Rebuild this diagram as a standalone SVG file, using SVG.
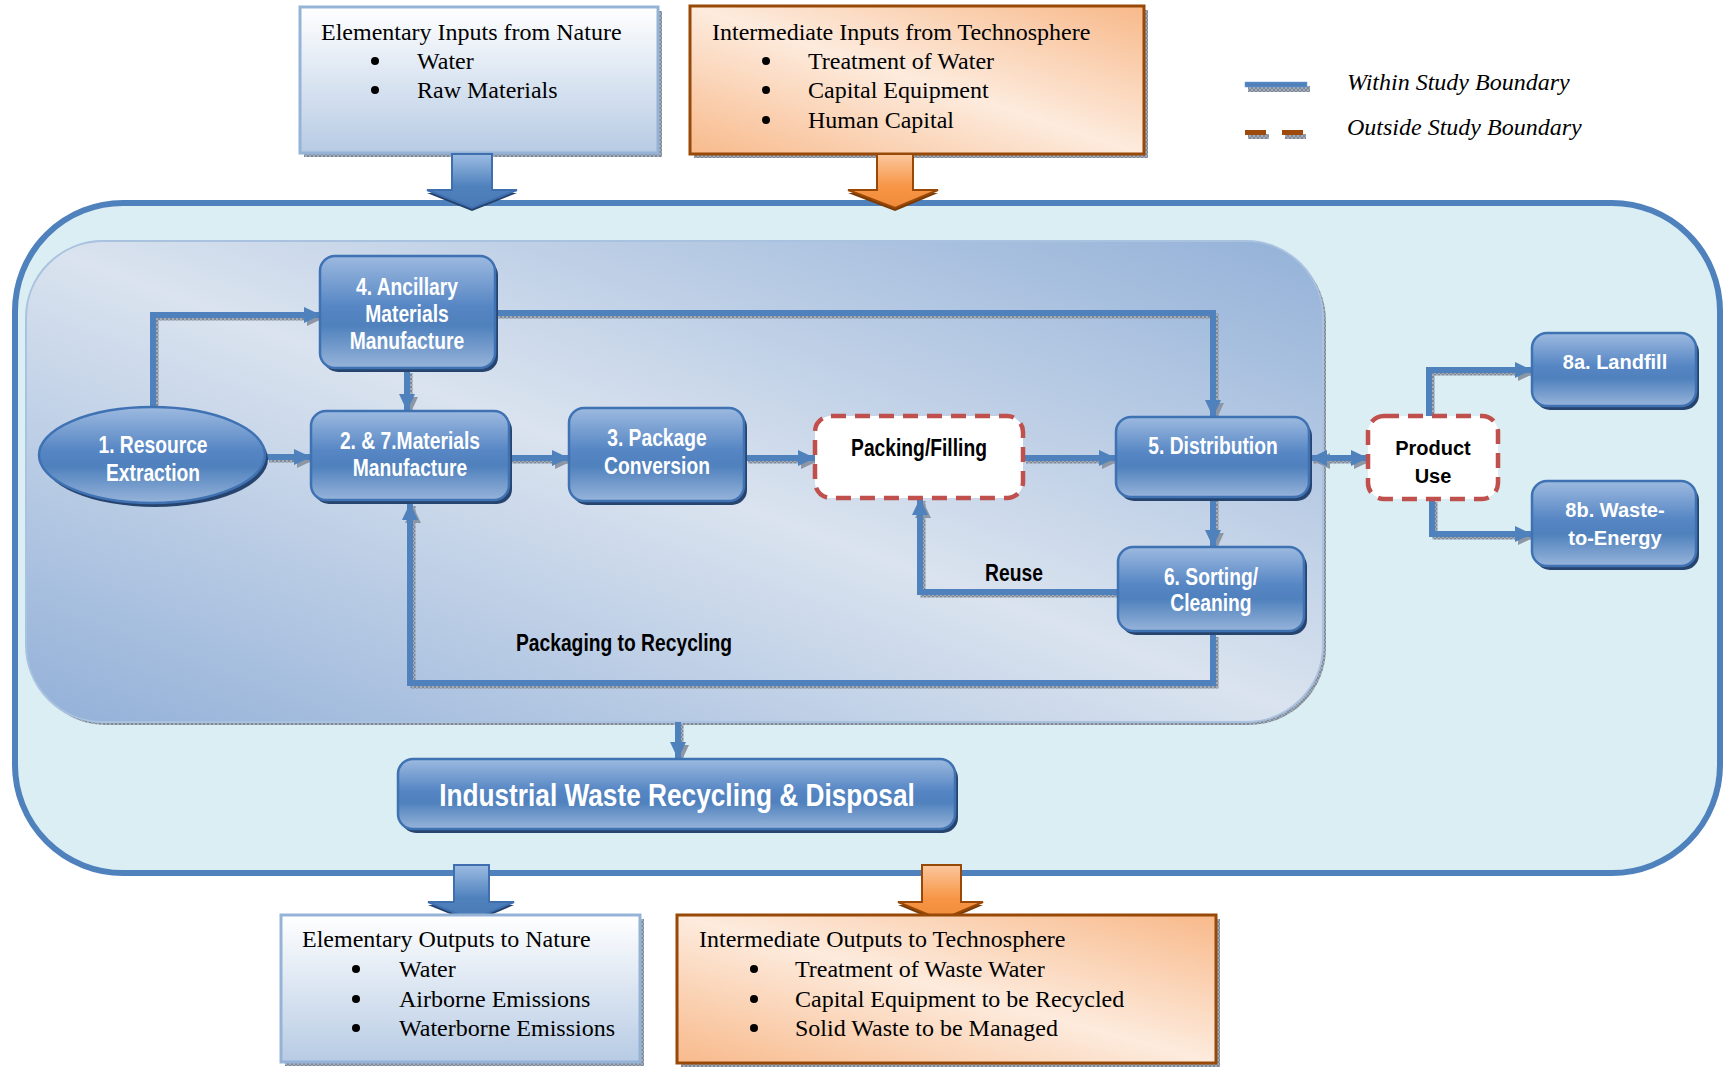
<svg xmlns="http://www.w3.org/2000/svg" width="1724" height="1067" viewBox="0 0 1724 1067">
<defs>
  <pattern id="hatch" width="4" height="4" patternUnits="userSpaceOnUse">
    <rect width="4" height="4" fill="#A3ACB8"/>
    <path d="M0 0L4 4M4 0L0 4" stroke="#6F7A8A" stroke-width="0.7"/>
  </pattern>
  <linearGradient id="gElem" x1="0" y1="0" x2="0" y2="1">
    <stop offset="0" stop-color="#FFFFFF"/>
    <stop offset="1" stop-color="#B7CBE4"/>
  </linearGradient>
  <linearGradient id="gOrange" x1="1" y1="0" x2="0" y2="1">
    <stop offset="0" stop-color="#F8B98A"/>
    <stop offset="0.5" stop-color="#FDEBDD"/>
    <stop offset="1" stop-color="#F8BA8C"/>
  </linearGradient>
  <linearGradient id="gInner" x1="1" y1="0" x2="0" y2="1">
    <stop offset="0" stop-color="#93B1D8"/>
    <stop offset="0.5" stop-color="#DAE3EF"/>
    <stop offset="1" stop-color="#92B0D8"/>
  </linearGradient>
  <linearGradient id="gNode" x1="0" y1="0" x2="0" y2="1">
    <stop offset="0" stop-color="#9DBAE0"/>
    <stop offset="0.45" stop-color="#5686C4"/>
    <stop offset="0.62" stop-color="#4F81BD"/>
    <stop offset="1" stop-color="#97B4DA"/>
  </linearGradient>
  <linearGradient id="gBlueArrow" x1="0" y1="0" x2="0" y2="1">
    <stop offset="0" stop-color="#9CBCE3"/>
    <stop offset="0.6" stop-color="#4F81BD"/>
    <stop offset="1" stop-color="#4A7AB5"/>
  </linearGradient>
  <linearGradient id="gOrangeArrow" x1="0" y1="0" x2="0" y2="1">
    <stop offset="0" stop-color="#FBC79E"/>
    <stop offset="0.6" stop-color="#F79646"/>
    <stop offset="1" stop-color="#F08A38"/>
  </linearGradient>
  <marker id="ah" markerUnits="userSpaceOnUse" markerWidth="17" markerHeight="16" refX="17" refY="8" orient="auto-start-reverse">
    <path d="M0,0 L17,8 L0,16 z" fill="#4F81BD"/>
  </marker>
  <marker id="ahs" markerUnits="userSpaceOnUse" markerWidth="17" markerHeight="16" refX="17" refY="8" orient="auto-start-reverse">
    <path d="M0,0 L17,8 L0,16 z" fill="#8C96A4"/>
  </marker>
  <style>
    .serif{font-family:"Liberation Serif","Times New Roman",serif;font-size:24px;fill:#000}
    .ital{font-family:"Liberation Serif","Times New Roman",serif;font-size:24px;font-style:italic;fill:#000}
    .nt{font-family:"Liberation Sans Narrow","Arial Narrow","Liberation Sans",sans-serif;font-weight:bold;font-size:23.5px;fill:#fff;text-anchor:middle}
    .nb{font-family:"Liberation Sans Narrow","Arial Narrow","Liberation Sans",sans-serif;font-weight:bold;font-size:23.5px;fill:#000;text-anchor:middle}
    .at{font-family:"Liberation Sans",Arial,sans-serif;font-weight:bold;font-size:20px;text-anchor:middle}
    .node{fill:url(#gNode);stroke:#3F72B3;stroke-width:2.5}
    .nshadow{fill:#27446E}
    .dash{fill:#fff;stroke:#C0504D;stroke-width:4.5;stroke-dasharray:15 9}
    .elem{fill:url(#gElem);stroke:#95B3D7;stroke-width:3}
    .orng{fill:url(#gOrange);stroke:#984807;stroke-width:3}
    .hatch{fill:url(#hatch)}
    .conn path{fill:none;stroke:#4F81BD;stroke-width:6;marker-end:url(#ah)}
    .conns path{fill:none;stroke:url(#hatch);stroke-width:5;marker-end:url(#ahs)}
    .barrow{fill:url(#gBlueArrow);stroke:#3F6FAE;stroke-width:2}
    .oarrow{fill:url(#gOrangeArrow);stroke:#984807;stroke-width:2}
  </style>
</defs>
<rect width="1724" height="1067" fill="#fff"/>

<!-- Outer study boundary -->
<g id="boundary">
  <rect x="15" y="203" width="1705" height="670" rx="108" ry="108" fill="#DAEEF3" stroke="#4F81BD" stroke-width="6"/>
</g>

<!-- Inner region -->
<g id="inner-region">
  <rect x="29" y="244" width="1297" height="481" rx="77" ry="77" class="hatch"/>
  <rect x="26" y="241" width="1297" height="481" rx="77" ry="77" fill="url(#gInner)" stroke="#A9C2E0" stroke-width="2"/>
</g>

<!-- Top input boxes -->
<g id="elementary-inputs">
  <rect x="304" y="11" width="358" height="146" class="hatch"/>
  <rect x="300" y="7" width="358" height="146" class="elem"/>
  <text class="serif" x="321" y="40">Elementary Inputs from Nature</text>
  <circle cx="375" cy="61" r="4"/>
  <text class="serif" x="417" y="69">Water</text>
  <circle cx="375" cy="90" r="4"/>
  <text class="serif" x="417" y="98">Raw Materials</text>
</g>
<g id="intermediate-inputs">
  <rect x="694" y="10" width="454" height="148" class="hatch"/>
  <rect x="690" y="6" width="454" height="148" class="orng"/>
  <text class="serif" x="712" y="40">Intermediate Inputs from Technosphere</text>
  <circle cx="766" cy="61" r="4"/>
  <text class="serif" x="808" y="69">Treatment of Water</text>
  <circle cx="766" cy="90" r="4"/>
  <text class="serif" x="808" y="98">Capital Equipment</text>
  <circle cx="766" cy="120" r="4"/>
  <text class="serif" x="808" y="128">Human Capital</text>
</g>

<!-- Big input arrows -->
<g id="arrow-in-elem">
  <polygon points="427,193 472,211 517,193" fill="#23406B"/>
  <polygon points="452,154 492,154 492,190 517,190 472,208 427,190 452,190" class="barrow"/>
</g>
<g id="arrow-in-inter">
  <polygon points="848,193 895,211 938,193" fill="#7A3A06"/>
  <polygon points="877,154 913,154 913,190 938,190 895,208 848,190 877,190" class="oarrow"/>
</g>

<!-- Legend -->
<g id="legend">
  <rect x="1248" y="86" width="62" height="6" class="hatch"/>
  <rect x="1245" y="82" width="62" height="5" fill="#4F81BD" stroke="#6A9AD6" stroke-width="0.5"/>
  <text class="ital" x="1347" y="90">Within Study Boundary</text>
  <rect x="1248" y="134" width="21" height="5" class="hatch"/>
  <rect x="1245" y="130" width="21" height="5" fill="#9E4A0C"/>
  <rect x="1285" y="134" width="21" height="5" class="hatch"/>
  <rect x="1282" y="130" width="21" height="5" fill="#9E4A0C"/>
  <text class="ital" x="1347" y="135">Outside Study Boundary</text>
</g>

<!-- Connectors -->
<g id="connectors">
  <g class="conns" transform="translate(3,3)">
    <path d="M153,408 L153,315 L321,315"/>
    <path d="M266,457 L311,457"/>
    <path d="M407,370 L407,411"/>
    <path d="M509,458 L569,458"/>
    <path d="M745,458 L815,458"/>
    <path d="M1023,458 L1116,458"/>
    <path d="M495,313 L1213,313 L1213,417"/>
    <path d="M1310,458 L1368,458" style="marker-start:url(#ahs)"/>
    <path d="M1213,498 L1213,547"/>
    <path d="M1118,592 L920,592 L920,498"/>
    <path d="M1213,634 L1213,683 L410,683 L410,503"/>
    <path d="M1429,416 L1429,370 L1532,370"/>
    <path d="M1432,499 L1432,534 L1532,534"/>
    <path d="M678,722 L678,759"/>
  </g>
  <g class="conn">
    <path d="M153,408 L153,315 L321,315"/>
    <path d="M266,457 L311,457"/>
    <path d="M407,370 L407,411"/>
    <path d="M509,458 L569,458"/>
    <path d="M745,458 L815,458"/>
    <path d="M1023,458 L1116,458"/>
    <path d="M495,313 L1213,313 L1213,417"/>
    <path d="M1310,458 L1368,458" style="marker-start:url(#ah)"/>
    <path d="M1213,498 L1213,547"/>
    <path d="M1118,592 L920,592 L920,498"/>
    <path d="M1213,634 L1213,683 L410,683 L410,503"/>
    <path d="M1429,416 L1429,370 L1532,370"/>
    <path d="M1432,499 L1432,534 L1532,534"/>
    <path d="M678,722 L678,759"/>
  </g>
</g>

<!-- Nodes -->
<g id="n1-resource-extraction">
  <ellipse cx="155" cy="459" rx="113" ry="48" class="nshadow"/>
  <ellipse cx="152" cy="455" rx="113" ry="48" class="node"/>
  <g transform="scale(0.82 1)">
    <text class="nt" x="186.6" y="453">1. Resource</text>
    <text class="nt" x="186.6" y="481">Extraction</text>
  </g>
</g>
<g id="n4-ancillary">
  <rect x="323" y="260" width="175" height="112" rx="15" class="nshadow"/>
  <rect x="320" y="256" width="175" height="112" rx="15" class="node"/>
  <g transform="scale(0.82 1)">
    <text class="nt" x="496.3" y="295">4. Ancillary</text>
    <text class="nt" x="496.3" y="322">Materials</text>
    <text class="nt" x="496.3" y="349">Manufacture</text>
  </g>
</g>
<g id="n27-materials">
  <rect x="314" y="415" width="198" height="89" rx="15" class="nshadow"/>
  <rect x="311" y="411" width="198" height="89" rx="15" class="node"/>
  <g transform="scale(0.82 1)">
    <text class="nt" x="500" y="449">2. &amp; 7.Materials</text>
    <text class="nt" x="500" y="476">Manufacture</text>
  </g>
</g>
<g id="n3-package">
  <rect x="572" y="412" width="175" height="93" rx="15" class="nshadow"/>
  <rect x="569" y="408" width="175" height="93" rx="15" class="node"/>
  <g transform="scale(0.82 1)">
    <text class="nt" x="801.2" y="446">3. Package</text>
    <text class="nt" x="801.2" y="474">Conversion</text>
  </g>
</g>
<g id="packing-filling">
  <rect x="815" y="416" width="208" height="82" rx="16" class="dash"/>
  <g transform="scale(0.82 1)">
    <text class="nb" x="1120.7" y="456">Packing/Filling</text>
  </g>
</g>
<g id="n5-distribution">
  <rect x="1119" y="421" width="193" height="80" rx="15" class="nshadow"/>
  <rect x="1116" y="417" width="193" height="80" rx="15" class="node"/>
  <g transform="scale(0.82 1)">
    <text class="nt" x="1479.3" y="454">5. Distribution</text>
  </g>
</g>
<g id="n6-sorting">
  <rect x="1121" y="551" width="186" height="84" rx="15" class="nshadow"/>
  <rect x="1118" y="547" width="186" height="84" rx="15" class="node"/>
  <g transform="scale(0.82 1)">
    <text class="nt" x="1476.8" y="585">6. Sorting/</text>
    <text class="nt" x="1476.8" y="611">Cleaning</text>
  </g>
</g>
<g id="product-use">
  <rect x="1368" y="416" width="130" height="83" rx="16" class="dash"/>
  <text class="at" x="1433" y="455" fill="#000">Product</text>
  <text class="at" x="1433" y="483" fill="#000">Use</text>
</g>
<g id="n8a-landfill">
  <rect x="1535" y="337" width="164" height="73" rx="15" class="nshadow"/>
  <rect x="1532" y="333" width="164" height="73" rx="15" class="node"/>
  <text class="at" x="1615" y="369" fill="#fff">8a. Landfill</text>
</g>
<g id="n8b-waste-to-energy">
  <rect x="1535" y="485" width="164" height="85" rx="15" class="nshadow"/>
  <rect x="1532" y="481" width="164" height="85" rx="15" class="node"/>
  <text class="at" x="1615" y="517" fill="#fff">8b. Waste-</text>
  <text class="at" x="1615" y="545" fill="#fff">to-Energy</text>
</g>
<g id="industrial-waste">
  <rect x="401" y="763" width="557" height="70" rx="15" class="nshadow"/>
  <rect x="398" y="759" width="557" height="70" rx="15" class="node"/>
  <g transform="scale(0.82 1)">
    <text class="nt" x="825.6" y="806" style="font-size:32px">Industrial Waste Recycling &amp; Disposal</text>
  </g>
</g>

<g id="labels" transform="scale(0.82 1)">
  <text class="nb" x="1236.6" y="581">Reuse</text>
  <text class="nb" x="761" y="651">Packaging to Recycling</text>
</g>

<!-- Big output arrows -->
<g id="arrow-out-elem">
  <polygon points="428,905 472,923 514,905" fill="#23406B"/>
  <polygon points="454,865 489,865 489,902 514,902 472,920 428,902 454,902" class="barrow"/>
</g>
<g id="arrow-out-inter">
  <polygon points="898,905 941,923 983,905" fill="#7A3A06"/>
  <polygon points="922,865 961,865 961,902 983,902 941,920 898,902 922,902" class="oarrow"/>
</g>

<!-- Bottom output boxes -->
<g id="elementary-outputs">
  <rect x="285" y="919" width="359" height="147" class="hatch"/>
  <rect x="281" y="915" width="359" height="147" class="elem"/>
  <text class="serif" x="302" y="947">Elementary Outputs to Nature</text>
  <circle cx="356" cy="969" r="4"/>
  <text class="serif" x="399" y="977">Water</text>
  <circle cx="356" cy="999" r="4"/>
  <text class="serif" x="399" y="1007">Airborne Emissions</text>
  <circle cx="356" cy="1028" r="4"/>
  <text class="serif" x="399" y="1036">Waterborne Emissions</text>
</g>
<g id="intermediate-outputs">
  <rect x="681" y="919" width="539" height="148" class="hatch"/>
  <rect x="677" y="915" width="539" height="148" class="orng"/>
  <text class="serif" x="699" y="947">Intermediate Outputs to Technosphere</text>
  <circle cx="754" cy="969" r="4"/>
  <text class="serif" x="795" y="977">Treatment of Waste Water</text>
  <circle cx="754" cy="999" r="4"/>
  <text class="serif" x="795" y="1007">Capital Equipment to be Recycled</text>
  <circle cx="754" cy="1028" r="4"/>
  <text class="serif" x="795" y="1036">Solid Waste to be Managed</text>
</g>
</svg>
